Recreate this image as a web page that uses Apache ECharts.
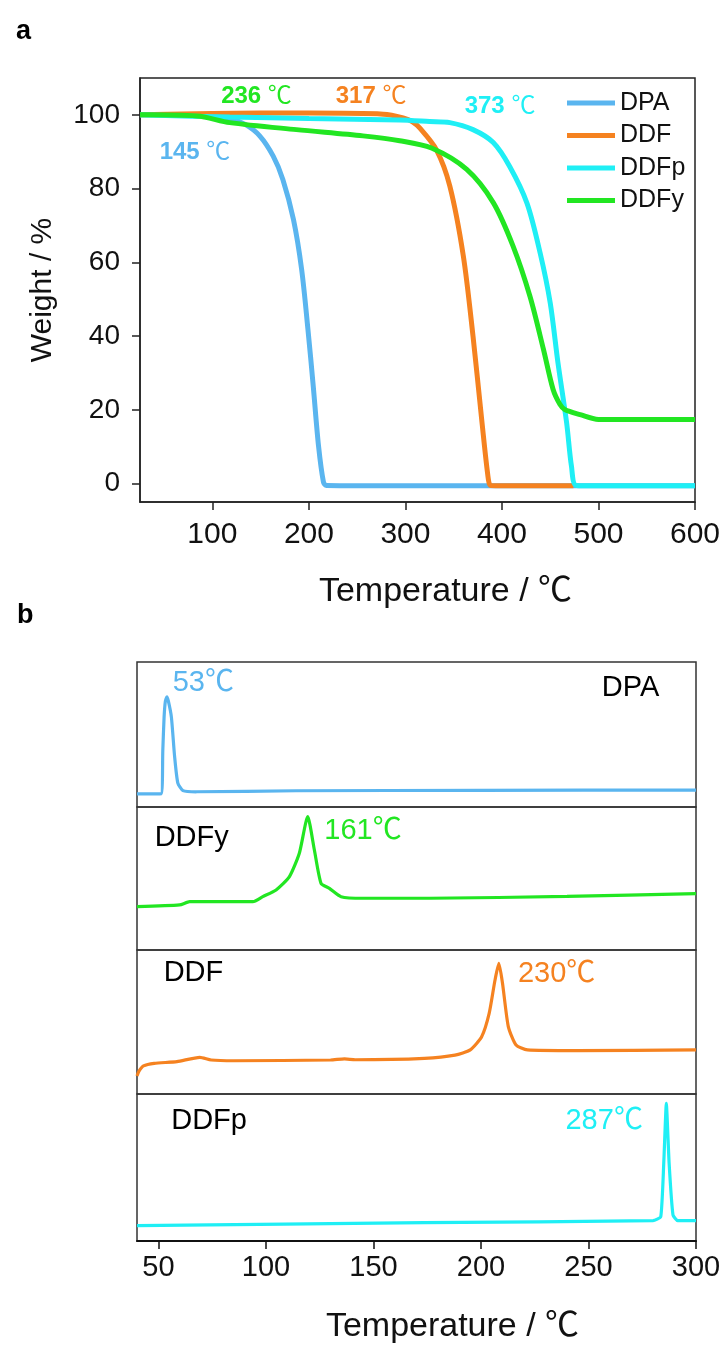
<!DOCTYPE html>
<html><head><meta charset="utf-8">
<script src="https://cdn.jsdelivr.net/npm/echarts@6/dist/echarts.min.js"></script>
<style>html,body{margin:0;padding:0;background:#fff}#c{width:719px;height:1347px}</style>
</head><body><div id="c"></div>
<script>
// ---- tick labels ----
const tgaXTicks = [100, 200, 300, 400, 500, 600];
const tgaYTicks = [0, 20, 40, 60, 80, 100];
const dscXTicks = [50, 100, 150, 200, 250, 300];
const tgaNames = ['DPA', 'DDF', 'DDFp', 'DDFy'];

// ---- TGA (panel a): temperature / weight % ----
const dpaT  = [25, 60, 100, 118, 134, 149, 163, 173, 184, 192.5, 199, 204.5, 210, 215, 218, 300, 400, 500, 600];
const dpaW  = [100, 100, 99.6, 99, 97.4, 94.3, 88.8, 82.5, 71.6, 58, 41.8, 26.4, 10.1, 0.5, -0.5, -0.6, -0.6, -0.6, -0.6];
const ddfT  = [25, 100, 200, 277, 297.7, 307, 315, 332, 346, 360, 370, 379, 386, 388.5, 420, 474];
const ddfW  = [100, 100.4, 100.5, 100.2, 99.2, 98.2, 96.4, 90.6, 80.7, 61.7, 40, 17.4, 1, -0.5, -0.6, -0.6];
const ddfpT = [25, 118, 200, 294, 325, 346, 370, 391, 408, 426, 439.5, 450, 458, 467, 472, 477, 500, 600];
const ddfpW = [100, 99.4, 99, 98.6, 98.2, 97.9, 96, 92.5, 86, 76, 62.6, 49, 32.8, 16.5, 4.7, -0.5, -0.6, -0.6];
const ddfyT = [25, 84, 118, 187, 256, 294, 327, 363.5, 391, 411.5, 429, 443, 453, 460, 465, 481, 500, 600];
const ddfyW = [100, 99.7, 97.9, 96, 94.3, 93, 91, 85.2, 76.2, 64.4, 50.8, 36.4, 25.5, 21.5, 20.1, 18.7, 17.4, 17.4];

// ---- DSC (panel b): temperature / relative heat flow (panel %) ----
const dscDpaT  = [40, 51.3, 52, 52.6, 53.2, 53.9, 54.6, 56, 57.5, 59, 61.4, 67.6, 114, 200, 300];
const dscDpaV  = [9.0, 9.2, 39, 62, 73, 76, 73, 62, 34.7, 16.5, 11.3, 10.5, 11.2, 11.5, 11.7];
const dscDdfyT = [40, 59.8, 64.5, 93.9, 98.5, 104.7, 110.9, 115.5, 119.4, 122.5, 125.6, 129.5, 134.9, 145, 176, 240, 300];
const dscDdfyV = [30.3, 31.5, 33.8, 33.8, 37.3, 42, 51.3, 67.6, 93.2, 69.9, 46.6, 43.1, 37.3, 36.2, 36.2, 37.5, 39.4];
const dscDdfT  = [40, 41, 43, 48, 58.6, 69.2, 74.5, 85.1, 130, 136.5, 141.5, 173.7, 187.9, 195, 200.3, 203.8, 206.5, 208.3, 210, 212.7, 216.3, 221.6, 244.6, 300];
const dscDdfV  = [12.5, 16, 19.5, 21.3, 22.5, 25.5, 23.6, 23.1, 23.6, 24.4, 23.8, 24.8, 27, 30.6, 39.8, 56, 79, 90.7, 76.9, 46.8, 34, 30.6, 30.1, 30.6];
const dscDdfpT = [40, 173.6, 280, 283.6, 285, 286.2, 287.5, 289.3, 291.5, 300];
const dscDdfpV = [10.4, 12.5, 13.8, 16.5, 52.8, 93.7, 52.8, 17.7, 13.8, 13.8];

const FF = "'Liberation Sans', Arial, 'Noto Sans CJK SC', sans-serif";
const C = { blue: '#5AB5EF', orange: '#F58220', cyan: '#1FEFF5', green: '#22E622', ink: '#111' };
const zip = (a, b) => a.map((v, i) => [v, b[i]]);

function tgaNote(coord, num, color) {
  return {
    coord: coord, value: num,
    label: {
      show: true, position: 'inside', formatter: '{n|' + num + '}{u| ℃}',
      rich: {
        n: { fontSize: 24, fontWeight: 'bold', color: color, fontFamily: FF },
        u: { fontSize: 24, fontWeight: 'normal', color: color, fontFamily: FF }
      }
    }
  };
}
function dscNote(coord, text, color) {
  return {
    coord: coord, value: 0,
    label: { show: true, position: 'inside', align: 'left', verticalAlign: 'middle',
      formatter: text, fontSize: 29, color: color, fontFamily: FF }
  };
}
function mp(data) {
  return { symbol: 'circle', symbolSize: 0, silent: true, animation: false, data: data };
}

const gridCommon = { show: true, borderColor: '#333', borderWidth: 1.5, backgroundColor: 'transparent' };
const dscPanels = [[662, 145], [807, 143], [950, 144], [1094, 147]];

const xAxes = [{
  type: 'value', gridIndex: 0, min: 25, max: 600,
  axisLine: { show: true, onZero: false, lineStyle: { color: '#222', width: 1.5 } },
  axisTick: { show: true, inside: false, length: 8, lineStyle: { color: '#222', width: 1.5 }, customValues: tgaXTicks },
  axisLabel: { customValues: tgaXTicks, fontSize: 30, color: C.ink, margin: 18, fontFamily: FF },
  splitLine: { show: false },
  name: 'Temperature / ℃', nameLocation: 'middle', nameGap: 73,
  nameTextStyle: { fontSize: 34, color: C.ink, fontFamily: FF, padding: [0, 0, 0, 56] }
}];
const yAxes = [{
  type: 'value', gridIndex: 0, min: -5, max: 110,
  axisLine: { show: true, onZero: false, lineStyle: { color: '#222', width: 1.5 } },
  axisTick: { show: true, inside: false, length: 8, lineStyle: { color: '#222', width: 1.5 }, customValues: tgaYTicks },
  axisLabel: { customValues: tgaYTicks, fontSize: 28, color: C.ink, margin: 20, fontFamily: FF },
  splitLine: { show: false },
  name: 'Weight / %', nameLocation: 'middle', nameGap: 82,
  nameTextStyle: { fontSize: 30, color: C.ink, fontFamily: FF }
}];
const grids = [Object.assign({ left: 140, top: 78, width: 555, height: 424 }, gridCommon, { borderColor: '#222' })];
dscPanels.forEach((p, i) => {
  grids.push(Object.assign({ left: 137, top: p[0], width: 559, height: p[1] }, gridCommon));
  const last = i === dscPanels.length - 1;
  xAxes.push(last ? {
    type: 'value', gridIndex: i + 1, min: 40, max: 300,
    axisLine: { show: true, onZero: false, lineStyle: { color: '#111', width: 2 } },
    axisTick: { show: true, inside: false, length: 8, lineStyle: { color: '#111', width: 1.5 }, customValues: dscXTicks },
    axisLabel: { customValues: dscXTicks, fontSize: 29, color: C.ink, margin: 12, fontFamily: FF },
    splitLine: { show: false },
    name: 'Temperature / ℃', nameLocation: 'middle', nameGap: 69,
    nameTextStyle: { fontSize: 34, color: C.ink, fontFamily: FF, padding: [0, 0, 0, 72] }
  } : { type: 'value', gridIndex: i + 1, min: 40, max: 300, show: false });
  yAxes.push({ type: 'value', gridIndex: i + 1, min: 0, max: 100, show: false });
});

const lineBase = { type: 'line', symbol: 'none', showSymbol: false, smooth: 0.3, silent: true };

const series = [
  Object.assign({}, lineBase, { name: 'DPA', xAxisIndex: 0, yAxisIndex: 0, data: zip(dpaT, dpaW),
    lineStyle: { color: C.blue, width: 5 }, itemStyle: { color: C.blue },
    markPoint: mp([tgaNote([82, 89.8], '145', C.blue)]) }),
  Object.assign({}, lineBase, { name: 'DDF', xAxisIndex: 0, yAxisIndex: 0, data: zip(ddfT, ddfW),
    lineStyle: { color: C.orange, width: 5 }, itemStyle: { color: C.orange },
    markPoint: mp([tgaNote([264.4, 105], '317', C.orange)]) }),
  Object.assign({}, lineBase, { name: 'DDFp', xAxisIndex: 0, yAxisIndex: 0, data: zip(ddfpT, ddfpW),
    lineStyle: { color: C.cyan, width: 5 }, itemStyle: { color: C.cyan },
    markPoint: mp([tgaNote([398, 102.3], '373', C.cyan)]) }),
  Object.assign({}, lineBase, { name: 'DDFy', xAxisIndex: 0, yAxisIndex: 0, data: zip(ddfyT, ddfyW),
    lineStyle: { color: C.green, width: 5 }, itemStyle: { color: C.green },
    markPoint: mp([tgaNote([145.7, 105], '236', C.green)]) }),

  Object.assign({}, lineBase, { name: 'DSC DPA', xAxisIndex: 1, yAxisIndex: 1, data: zip(dscDpaT, dscDpaV),
    smooth: 0.2, lineStyle: { color: C.blue, width: 3.2 },
    markPoint: mp([dscNote([56.6, 85.5], '53℃', C.blue), dscNote([256.2, 82], 'DPA', '#000')]) }),
  Object.assign({}, lineBase, { name: 'DSC DDFy', xAxisIndex: 2, yAxisIndex: 2, data: zip(dscDdfyT, dscDdfyV),
    smooth: 0.2, lineStyle: { color: C.green, width: 3.2 },
    markPoint: mp([dscNote([127.1, 83.2], '161℃', C.green), dscNote([48.2, 78], 'DDFy', '#000')]) }),
  Object.assign({}, lineBase, { name: 'DSC DDF', xAxisIndex: 3, yAxisIndex: 3, data: zip(dscDdfT, dscDdfV),
    smooth: 0.2, lineStyle: { color: C.orange, width: 3.2 },
    markPoint: mp([dscNote([217.2, 83.3], '230℃', C.orange), dscNote([52.4, 83.7], 'DDF', '#000')]) }),
  Object.assign({}, lineBase, { name: 'DSC DDFp', xAxisIndex: 4, yAxisIndex: 4, data: zip(dscDdfpT, dscDdfpV),
    smooth: 0.15, lineStyle: { color: C.cyan, width: 3.2 },
    markPoint: mp([dscNote([239.3, 81.6], '287℃', C.cyan), dscNote([55.9, 81.6], 'DDFp', '#000')]) })
];

const option = {
  animation: false,
  backgroundColor: '#fff',
  textStyle: { fontFamily: FF },
  title: [
    { text: 'a', left: 11, top: 13, textStyle: { fontSize: 27, fontWeight: 'bold', color: '#000', fontFamily: FF } },
    { text: 'b', left: 12, top: 597, textStyle: { fontSize: 27, fontWeight: 'bold', color: '#000', fontFamily: FF } }
  ],
  legend: {
    data: tgaNames.map(n => ({ name: n, icon: 'rect' })),
    orient: 'vertical', left: 567, top: 90, padding: 0,
    itemWidth: 48, itemHeight: 5, itemGap: 6.5,
    textStyle: { fontSize: 25, lineHeight: 26, color: '#111', fontFamily: FF },
    selectedMode: false
  },
  grid: grids.map(g => Object.assign({ outerBoundsMode: 'none', containLabel: false }, g)),
  xAxis: xAxes,
  yAxis: yAxes,
  series: series
};

const chart = echarts.init(document.getElementById('c'), null, { renderer: 'canvas' });
chart.setOption(option);
</script>
</body></html>
